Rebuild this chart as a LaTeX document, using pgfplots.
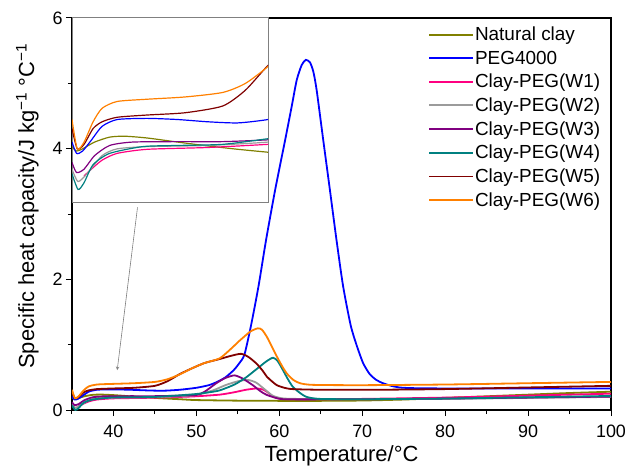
\documentclass[border=0pt]{standalone}
\usepackage{pgfplots}
\pgfplotsset{compat=1.18}
\usepackage{pgfplotstable}
\usepackage{fontspec}
\setmainfont{Liberation Sans}
\definecolor{colOlive}{RGB}{128,128,0}
\definecolor{colBlue}{RGB}{0,0,255}
\definecolor{colPink}{RGB}{255,0,128}
\definecolor{colGrey}{RGB}{155,155,155}
\definecolor{colPurple}{RGB}{128,0,128}
\definecolor{colTeal}{RGB}{0,128,128}
\definecolor{colBrown}{RGB}{128,0,0}
\definecolor{colOrange}{RGB}{255,128,0}

\pgfplotstableread{
x y
35 0.19
35.3 0.17
35.7 0.18
36.5 0.21
37.5 0.232
38.5 0.236
40 0.228
42 0.21
44 0.193
46 0.178
48 0.165
50 0.152
55 0.143
60 0.14
65 0.14
70 0.145
75 0.16
80 0.185
85 0.21
90 0.235
95 0.26
100 0.28
}\tOlive

\pgfplotstableread{
x y
35 0.21
35.3 0.16
35.7 0.17
36.3 0.22
37 0.28
38 0.31
40 0.315
42 0.31
44 0.3
46 0.295
48 0.31
50 0.34
51.5 0.38
52.5 0.43
53.5 0.5
54.5 0.61
55.2 0.72
55.8 0.85
56.6 1.3
57.5 1.9
58.4 2.6
59.5 3.37
60.7 4.13
61.5 4.65
62.1 5.05
62.7 5.28
63.2 5.36
63.7 5.32
64.1 5.18
64.5 4.9
65.3 4.13
66.1 3.37
66.9 2.6
67.7 1.89
68.6 1.3
69.3 1.0
70.1 0.72
70.9 0.55
71.7 0.46
72.5 0.41
73.5 0.37
74.5 0.345
76 0.335
80 0.33
90 0.33
100 0.33
}\tBlue

\pgfplotstableread{
x y
35.8 0.06
36.2 0.085
37 0.13
38 0.16
40 0.178
44 0.186
48 0.2
50 0.21
52.8 0.235
54.5 0.27
56 0.31
57.3 0.33
58.1 0.31
58.7 0.26
59.3 0.2
60.2 0.17
63 0.163
70 0.17
80 0.19
90 0.22
100 0.25
}\tPink

\pgfplotstableread{
x y
35 0.09
35.4 0.035
36 0.07
37 0.15
38 0.18
40 0.19
44 0.195
48 0.21
50 0.23
52 0.3
53.5 0.38
55 0.44
56.2 0.46
57.2 0.42
58.2 0.32
59.2 0.22
60.3 0.18
62 0.17
70 0.165
80 0.17
90 0.185
100 0.2
}\tGrey

\pgfplotstableread{
x y
35 0.12
35.3 0.075
35.8 0.09
36.5 0.15
37.5 0.195
39 0.21
42 0.212
45 0.212
48 0.22
50 0.23
51 0.28
52.4 0.41
53.5 0.49
54.6 0.53
55.6 0.48
56.8 0.38
57.7 0.29
58.5 0.23
60.1 0.17
62 0.163
70 0.165
80 0.175
90 0.19
100 0.205
}\tPurple

\pgfplotstableread{
x y
35 0.07
35.4 0.0
35.8 0.03
36.4 0.11
37.5 0.16
39.7 0.19
42 0.195
45 0.2
48 0.225
50 0.245
51.5 0.27
52.8 0.3
54.6 0.39
56 0.5
57.3 0.63
58.5 0.75
59.25 0.8
59.8 0.75
60.4 0.62
61 0.48
61.6 0.36
62.4 0.27
63.3 0.2
64.9 0.17
70 0.165
80 0.175
90 0.195
100 0.215
}\tTeal

\pgfplotstableread{
x y
35 0.27
35.35 0.18
35.8 0.2
36.4 0.27
37 0.3
38 0.32
40 0.33
42.5 0.34
45 0.37
46.5 0.44
48 0.55
49.5 0.64
51 0.72
52.8 0.78
54.2 0.83
55.4 0.86
56.3 0.81
57.25 0.71
58 0.6
58.5 0.51
59.1 0.44
59.7 0.38
60.6 0.34
61.6 0.32
65 0.31
72 0.31
80 0.32
90 0.345
100 0.37
}\tBrown

\pgfplotstableread{
x y
35 0.31
35.35 0.18
35.8 0.21
36.4 0.3
37 0.36
38 0.39
40 0.40
42.5 0.41
45 0.43
46.5 0.47
48 0.545
49.5 0.64
51 0.72
52.8 0.79
54.2 0.94
55.2 1.06
56.5 1.2
57.4 1.25
57.9 1.23
58.5 1.12
59.1 0.97
59.7 0.82
60.3 0.68
60.9 0.56
61.7 0.46
62.5 0.41
64 0.385
70 0.38
80 0.39
90 0.41
100 0.43
}\tOrange

\begin{document}
\begin{tikzpicture}
\path[use as bounding box] (-72bp,-59bp) rectangle (553bp,410bp);
\begin{axis}[
  at={(0,0)}, anchor=south west,
  width=539bp, height=392bp, scale only axis,
  xmin=35, xmax=100, ymin=0, ymax=6,
  xtick={40,50,...,100}, minor xtick={35,45,...,95},
  ytick={0,2,4,6}, minor ytick={1,3,5},
  tick pos=left, tick align=outside,
  major tick length=6bp, minor tick length=4bp,
  axis line style={line width=1.2bp},
  every tick/.style={black, line width=1bp},
  /pgf/number format/assume math mode=true,
  ticklabel style={font=\fontsize{18}{20}\selectfont},
  xticklabel style={yshift=-5bp},
  label style={font=\fontsize{22}{25}\selectfont},
  xlabel={Temperature/°C},
  ylabel={Specific heat capacity/J kg\textsuperscript{−1} °C\textsuperscript{−1}},
  xlabel style={at={(axis description cs:0.5,-0.117)}, anchor=center},
  ylabel style={at={(axis description cs:-0.083,0.52)}, anchor=center},
  legend style={draw=none, fill=none, at={(0.655,0.985)}, anchor=north west,
    font=\fontsize{19}{22}\selectfont, row sep=6.5bp,
    nodes={inner sep=1bp}},
  legend cell align=left,
  legend image code/.code={\draw[#1] (0bp,0bp) -- (44bp,0bp);},
  every axis plot/.append style={line width=1.8bp, smooth, tension=0.4},
]
\addplot[colOlive] table {\tOlive};
\addlegendentry{Natural clay}
\addplot[colBlue] table {\tBlue};
\addlegendentry{PEG4000}
\addplot[colPink] table {\tPink};
\addlegendentry{Clay-PEG(W1)}
\addplot[colGrey] table {\tGrey};
\addlegendentry{Clay-PEG(W2)}
\addplot[colPurple] table {\tPurple};
\addlegendentry{Clay-PEG(W3)}
\addplot[colTeal] table {\tTeal};
\addlegendentry{Clay-PEG(W4)}
\addplot[colBrown] table {\tBrown};
\addlegendentry{Clay-PEG(W5)}
\addplot[colOrange] table {\tOrange};
\addlegendentry{Clay-PEG(W6)}
\draw[gray, line width=0.6bp, -stealth] (axis cs:42.9,3.1) -- (axis cs:40.45,0.61);
\end{axis}
\begin{axis}[
  at={(0,207bp)}, anchor=south west,
  width=196bp, height=185bp, scale only axis,
  xmin=35, xmax=48, ymin=-0.06, ymax=0.76,
  ticks=none,
  axis line style={gray, line width=1bp},
  axis background/.style={fill=white},
  every axis plot/.append style={line width=1.2bp, smooth, tension=0.4},
]
\addplot[colOlive] table {\tOlive};
\addplot[colBlue] table {\tBlue};
\addplot[colPink] table {\tPink};
\addplot[colGrey] table {\tGrey};
\addplot[colPurple] table {\tPurple};
\addplot[colTeal] table {\tTeal};
\addplot[colBrown] table {\tBrown};
\addplot[colOrange] table {\tOrange};
\end{axis}
\end{tikzpicture}
\end{document}
